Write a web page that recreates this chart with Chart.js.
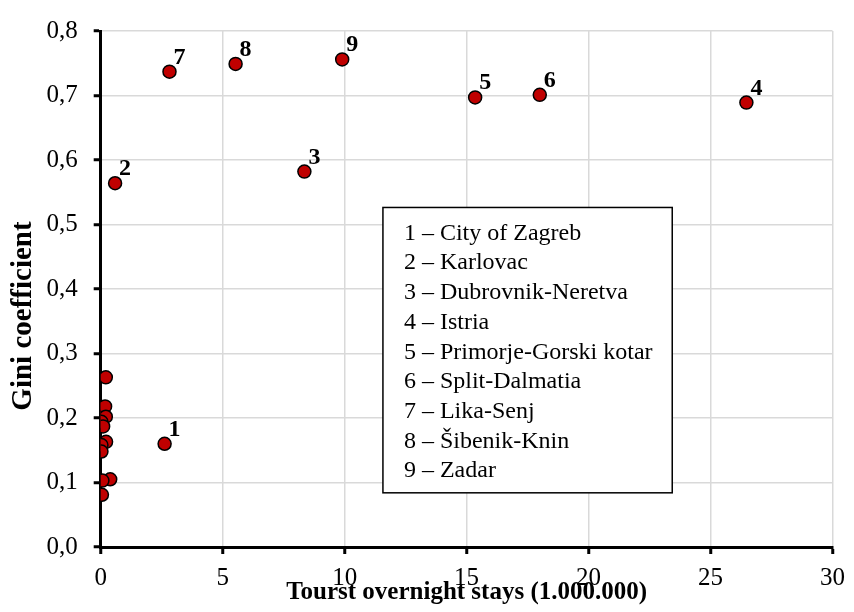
<!DOCTYPE html>
<html>
<head>
<meta charset="utf-8">
<script src="https://cdn.jsdelivr.net/npm/chart.js@4.4.0/dist/chart.umd.min.js"></script>
<style>
  html, body { margin: 0; padding: 0; background: #fff; }
  #giniChart { display: block; }
</style>
</head>
<body>
<canvas id="giniChart" width="854" height="612"></canvas>
<script>
// Tourist overnight stays (millions) and Gini coefficient per county
const countyIds = ['1', '2', '3', '4', '5', '6', '7', '8', '9', '', '', '', '', '', '', '', '', '', '', '', ''];
const touristStays = [2.62, 0.59, 8.35, 26.47, 15.35, 18.0, 2.82, 5.53, 9.9,
  0.21, 0.09, 0.18, 0.21, 0.03, 0.1, 0.22, 0.03, 0.03, 0.39, 0.07, 0.05];
const giniValues = [0.160, 0.564, 0.582, 0.689, 0.697, 0.701, 0.737, 0.749, 0.756,
  0.263, 0.215, 0.218, 0.202, 0.194, 0.187, 0.163, 0.158, 0.148, 0.105, 0.103, 0.081];
const legendLines = ['1 – City of Zagreb', '2 – Karlovac', '3 – Dubrovnik-Neretva', '4 – Istria',
  '5 – Primorje-Gorski kotar', '6 – Split-Dalmatia', '7 – Lika-Senj', '8 – Šibenik-Knin', '9 – Zadar'];
const xTicks = [0, 5, 10, 15, 20, 25, 30];
const yTicks = [0, 0.1, 0.2, 0.3, 0.4, 0.5, 0.6, 0.7, 0.8];
const yTitle = 'Gini coefficient';

const serif = "'Liberation Serif', 'Times New Roman', serif";

const points = touristStays.map((x, i) => ({ x: x, y: giniValues[i] }));

// numbers next to the labelled counties
const pointNumbers = {
  id: 'pointNumbers',
  afterDatasetsDraw(chart) {
    const ctx = chart.ctx;
    const meta = chart.getDatasetMeta(0);
    ctx.save();
    ctx.font = 'bold 24px ' + serif;
    ctx.fillStyle = '#000';
    ctx.textAlign = 'left';
    ctx.textBaseline = 'alphabetic';
    meta.data.forEach((pt, i) => {
      if (countyIds[i]) ctx.fillText(countyIds[i], pt.x + 4, pt.y - 8);
    });
    ctx.restore();
  }
};

// key box with the county names, plus the y axis title (sits a bit below centre)
const keyBox = {
  id: 'keyBox',
  afterDraw(chart) {
    const ctx = chart.ctx;
    const xs = chart.scales.x, ys = chart.scales.y;
    const left = xs.getPixelForValue(11.57), right = xs.getPixelForValue(23.43);
    const top = ys.getPixelForValue(0.5264), bottom = ys.getPixelForValue(0.084);
    ctx.save();
    ctx.fillStyle = '#fff';
    ctx.fillRect(left, top, right - left, bottom - top);
    ctx.strokeStyle = '#000';
    ctx.lineWidth = 1.5;
    ctx.strokeRect(left, top, right - left, bottom - top);
    ctx.font = '24px ' + serif;
    ctx.fillStyle = '#000';
    ctx.textAlign = 'left';
    ctx.textBaseline = 'middle';
    legendLines.forEach((line, i) => {
      ctx.fillText(line, left + 21, top + 26 + i * 29.7);
    });

    ctx.translate(24, (chart.chartArea.top + chart.chartArea.bottom) / 2 + 27);
    ctx.rotate(-Math.PI / 2);
    ctx.font = 'bold 29px ' + serif;
    ctx.textAlign = 'center';
    ctx.fillText(yTitle, 0, 0);
    ctx.restore();
  }
};

new Chart(document.getElementById('giniChart'), {
  type: 'scatter',
  data: {
    datasets: [{
      data: points,
      backgroundColor: '#c00000',
      borderColor: '#000',
      borderWidth: 1.5,
      pointRadius: 6.5,
      pointHoverRadius: 6.5
    }]
  },
  options: {
    responsive: false,
    animation: false,
    layout: { padding: { top: 23, right: 14.5, left: 0, bottom: 0 } },
    plugins: {
      legend: { display: false },
      tooltip: { enabled: false }
    },
    scales: {
      x: {
        type: 'linear',
        min: 0,
        max: 30,
        afterFit: scale => { scale.height = 65; },
        afterBuildTicks: scale => { scale.ticks = xTicks.map(v => ({ value: v })); },
        grid: { color: '#d9d9d9', lineWidth: 1.5, tickColor: '#000', tickWidth: 3, tickLength: 7 },
        border: { color: '#000', width: 3 },
        ticks: {
          color: '#000',
          font: { family: serif, size: 25 },
          padding: 9,
          maxRotation: 0
        },
        title: {
          display: true,
          text: 'Tourst overnight stays (1.000.000)',
          color: '#000',
          font: { family: serif, size: 25, weight: 'bold' },
          padding: { top: 0, bottom: 4 }
        }
      },
      y: {
        min: 0,
        max: 0.8,
        afterFit: scale => { scale.width = 100.7; },
        afterBuildTicks: scale => { scale.ticks = yTicks.map(v => ({ value: v })); },
        grid: { color: '#d9d9d9', lineWidth: 1.5, tickColor: '#000', tickWidth: 3, tickLength: 7 },
        border: { color: '#000', width: 3 },
        ticks: {
          color: '#000',
          font: { family: serif, size: 25 },
          padding: 16,
          callback: v => v.toFixed(1).replace('.', ',')
        }
      }
    }
  },
  plugins: [pointNumbers, keyBox]
});
</script>
</body>
</html>
